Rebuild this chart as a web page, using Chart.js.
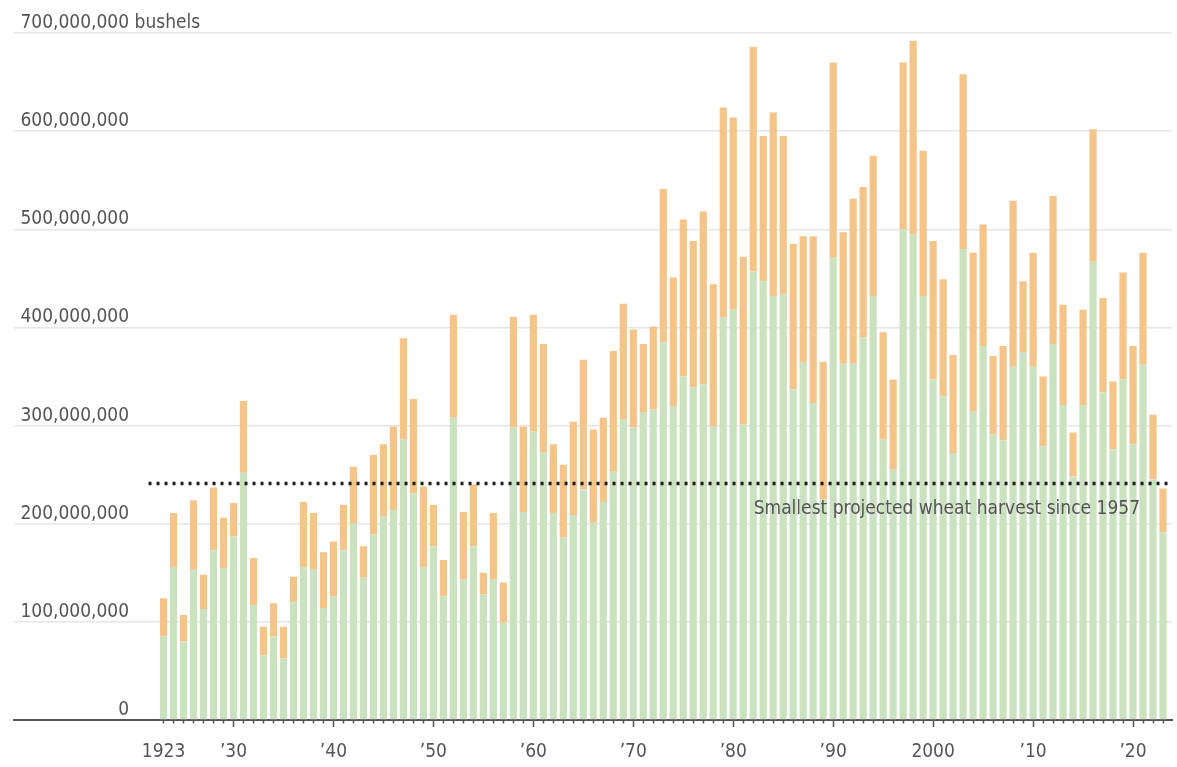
<!DOCTYPE html>
<html>
<head>
<meta charset="utf-8">
<title>Wheat harvest</title>
<script src="https://cdn.jsdelivr.net/npm/chart.js@4.4.1/dist/chart.umd.min.js"></script>
<style>
  html, body { margin: 0; padding: 0; background: #fff; }
  #wrap { position: relative; width: 1177px; height: 767px; }
</style>
</head>
<body>
<div id="wrap"><canvas id="chart"></canvas></div>
<script>
// =======================
// Data (millions of bushels)
// =======================
const firstYear = 1923;
const lastYear = 2023;
const years = [];
for (let yr = firstYear; yr <= lastYear; yr++) years.push(yr);

// green part of each bar
const harvested = [
  85, 156, 80, 153, 113, 173, 155, 187, 252, 117,
  66, 85, 63, 120, 156, 153, 114, 126, 173, 200,
  145, 189, 207, 214, 286, 231, 156, 177, 126, 308,
  143, 177, 128, 143, 99, 298, 212, 294, 273, 211,
  186, 209, 235, 201, 222, 253, 306, 298, 313, 316,
  385, 320, 350, 339, 342, 299, 410, 418, 301, 457,
  447, 432, 434, 337, 364, 323, 225, 471, 363, 363,
  390, 432, 286, 255, 500, 495, 432, 347, 330, 272,
  480, 314, 381, 291, 285, 360, 375, 360, 279, 383,
  321, 248, 321, 467, 334, 276, 347, 281, 362, 245,
  191
];

// top of the orange part of each bar
const barTop = [
  124, 211, 107, 224, 148, 237, 206, 221, 325, 165,
  95, 119, 95, 146, 222, 211, 171, 182, 219, 258,
  177, 270, 281, 299, 389, 327, 238, 219, 163, 413,
  212, 240, 150, 211, 140, 411, 299, 413, 383, 281,
  260, 304, 367, 296, 308, 376, 424, 398, 383, 401,
  541, 451, 510, 488, 518, 444, 624, 614, 472, 686,
  595, 619, 595, 485, 493, 493, 365, 670, 497, 531,
  543, 575, 395, 347, 670, 692, 580, 488, 449, 372,
  658, 476, 505, 371, 381, 529, 447, 476, 350, 534,
  423, 293, 418, 602, 430, 345, 456, 381, 476, 311,
  236
];

const refLevel = 241;
const refText = 'Smallest projected wheat harvest since 1957';

const tickYears = [1923, 1930, 1940, 1950, 1960, 1970, 1980, 1990, 2000, 2010, 2020];
const tickText = ['1923', '\u201930', '\u201940', '\u201950', '\u201960', '\u201970', '\u201980', '\u201990', '2000', '\u201910', '\u201920'];
const yUnit = 'bushels';

// =======================
// Styles
// =======================
const FONT = '"DejaVu Sans Condensed", "DejaVu Sans", sans-serif';
const GREEN = '#cbe2c0';
const ORANGE = '#f4c489';
const TEXT = '#555';

// "bushels" after the top tick and the note under the dotted line
const notesPlugin = {
  id: 'notes',
  afterDraw(chart) {
    const { ctx, scales: { x, y } } = chart;
    ctx.save();
    ctx.font = `19px ${FONT}`;
    ctx.fillStyle = TEXT;
    ctx.textBaseline = 'middle';
    ctx.textAlign = 'left';
    const topLabel = y.ticks[y.ticks.length - 1].label;
    const lx = y.right + y.options.ticks.padding + ctx.measureText(topLabel).width;
    ctx.fillText(' ' + yUnit, lx, y.getPixelForValue(y.max) + y.options.ticks.labelOffset);

    ctx.textAlign = 'right';
    ctx.textBaseline = 'alphabetic';
    ctx.fillText(refText, x.getPixelForValue(2020.7), y.getPixelForValue(refLevel) + 31);
    ctx.restore();
  }
};

Chart.defaults.font.family = FONT;

new Chart(document.getElementById('chart'), {
  type: 'bar',
  data: {
    datasets: [
      {
        type: 'line',
        data: [{ x: 1921.5, y: refLevel }, { x: 2023.9, y: refLevel }],
        borderColor: '#1d1d1d',
        borderWidth: 3.5,
        borderDash: [3, 5],
        pointRadius: 0,
        order: 0
      },
      {
        label: 'Harvested',
        data: years.map((yr, i) => ({ x: yr, y: harvested[i] })),
        backgroundColor: GREEN,
        grouped: false,
        barPercentage: 0.72,
        categoryPercentage: 1,
        order: 1
      },
      {
        label: 'Rest',
        data: years.map((yr, i) => ({ x: yr, y: [harvested[i], barTop[i]] })),
        backgroundColor: ORANGE,
        grouped: false,
        barPercentage: 0.72,
        categoryPercentage: 1,
        order: 1
      }
    ]
  },
  options: {
    responsive: true,
    maintainAspectRatio: false,
    animation: false,
    layout: { padding: { top: 33, right: 5, bottom: 0, left: 0 } },
    plugins: {
      legend: { display: false },
      tooltip: { enabled: false }
    },
    scales: {
      x: {
        type: 'linear',
        min: 1908,
        max: 2023.9,
        offset: false,
        z: 1,
        afterBuildTicks: scale => { scale.ticks = years.map(v => ({ value: v })); },
        afterFit: scale => { scale.height = 47; },
        border: { color: '#555', width: 2 },
        grid: {
          drawOnChartArea: false,
          offset: false,
          tickLength: 7,
          tickWidth: 1.5,
          tickColor: '#555',
          tickBorderDash: c => (c.tick && tickYears.includes(c.tick.value) && c.tick.value !== 1923) ? [] : [2.5, 30]
        },
        ticks: {
          autoSkip: false,
          maxRotation: 0,
          padding: 13.6,
          color: TEXT,
          font: { size: 19 },
          callback: v => {
            const i = tickYears.indexOf(v);
            return i >= 0 ? tickText[i] : '';
          }
        }
      },
      y: {
        min: 0,
        max: 700,
        border: { display: false },
        grid: { color: '#e6e6e6', lineWidth: 1.5, drawTicks: false },
        ticks: {
          stepSize: 100,
          mirror: true,
          crossAlign: 'far',
          padding: 6.8,
          labelOffset: -10,
          color: TEXT,
          font: { size: 19 },
          callback: v => v === 0 ? '0' : (v * 1e6).toLocaleString('en-US')
        }
      }
    }
  },
  plugins: [notesPlugin]
});
</script>
</body>
</html>
